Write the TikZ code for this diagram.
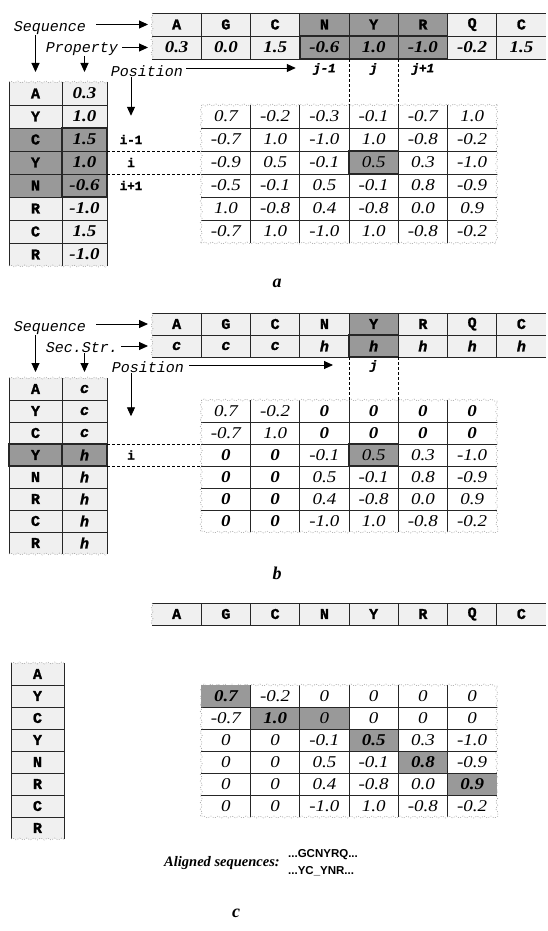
\documentclass[tikz,border=0pt]{standalone}
\usepackage{fontspec}
\setmainfont{Liberation Serif}
\setmonofont[BoldFeatures={FakeBold=1.5},BoldItalicFeatures={FakeBold=1.5}]{Liberation Mono}
\newfontfamily\arialfont{Liberation Sans}
\newfontfamily\numfam[FakeStretch=1.15]{Liberation Serif}
\usetikzlibrary{arrows.meta,calc,backgrounds,decorations.pathmorphing}
\colorlet{lightcell}{black!6}
\colorlet{darkcell}{black!40}
\newcommand\mfnt{\numfam\itshape\fontsize{16.5}{18}\selectfont}
\newcommand\bz{\textbf{0}}
\tikzset{
  lbl/.style={font=\ttfamily\itshape\fontsize{15}{16}\selectfont, inner sep=0pt},
  ilbl/.style={font=\ttfamily\bfseries\fontsize{12.5}{13}\selectfont, inner sep=0pt},
  jlbl/.style={font=\ttfamily\bfseries\itshape\fontsize{12.5}{13}\selectfont, inner sep=0pt},
  letc/.style={font=\ttfamily\bfseries\fontsize{15}{16}\selectfont},
  ssc/.style={font=\ttfamily\bfseries\itshape\fontsize{15}{16}\selectfont},
  bnum/.style={font=\numfam\bfseries\itshape\fontsize{16.5}{18}\selectfont},
  cellbase/.style={inner sep=0pt, outer sep=0pt},
  gridln/.style={line width=0.8pt, draw=black!85},
  boxln/.style={line width=1.5pt, draw=black!85},
  torn/.style={draw=black!40, line width=0.5pt, dash pattern=on 1pt off 1.5pt, decorate, decoration={zigzag, segment length=7pt, amplitude=1pt}},
  arr/.style={-{Triangle[length=9pt,width=8pt]}, line width=0.9pt},
  dsh/.style={line width=0.8pt, dash pattern=on 3pt off 2pt},
  plbl/.style={font=\bfseries\itshape\fontsize{18}{20}\selectfont, inner sep=0pt},
}
\begin{document}
\begin{tikzpicture}[x=1pt,y=-1pt]
\begin{scope}[on background layer]
  \fill[white] (0,0) rectangle (547,931);
\end{scope}
\useasboundingbox (0,0) rectangle (547,931);

% ================= PANEL A =================
% top table
\foreach \tx/\f [count=\k] in {A/lightcell,G/lightcell,C/lightcell,N/darkcell,Y/darkcell,R/darkcell,Q/lightcell,C/lightcell}
  \node[cellbase, letc, fill=\f, minimum width=49.25pt, minimum height=23pt] (aS\k) at ({152+49.25*(\k-0.5)},24.5) {\tx};
\foreach \tx/\f [count=\k] in {0.3/lightcell,0.0/lightcell,1.5/lightcell,-0.6/darkcell,1.0/darkcell,-1.0/darkcell,-0.2/lightcell,1.5/lightcell}
  \node[cellbase, bnum, fill=\f, minimum width=49.25pt, minimum height=23pt] (aP\k) at ({152+49.25*(\k-0.5)},47.5) {\tx};
\draw[gridln] (aS1.north west) -- (aS8.north east);
\draw[gridln] (aS1.south west) -- (aS8.south east);
\draw[gridln] (aP1.south west) -- (aP8.south east);
\foreach \k in {1,...,7} \draw[gridln] (aS\k.north east) -- (aP\k.south east);
\draw[torn] (aS1.north west) -- (aP1.south west);
\draw[boxln] (aP4.north west) rectangle (aP6.south east);

% left table
\foreach \la/\va/\f [count=\k] in {A/0.3/lightcell,Y/1.0/lightcell,C/1.5/darkcell,Y/1.0/darkcell,N/-0.6/darkcell,R/-1.0/lightcell,C/1.5/lightcell,R/-1.0/lightcell}{
  \node[cellbase, letc, fill=\f, minimum width=53pt, minimum height=23pt] (aL\k) at (35.5,{82+23*(\k-0.5)}) {\la};
  \node[cellbase, bnum, fill=\f, minimum width=45pt, minimum height=23pt] (aV\k) at (84.5,{82+23*(\k-0.5)}) {\va};
}
\draw[gridln] (aL1.north west) -- (aL8.south west);
\draw[gridln] (aV1.north west) -- (aV8.south west);
\draw[gridln] (aV1.north east) -- (aV8.south east);
\foreach \k in {1,...,7} \draw[gridln] (aL\k.south west) -- (aV\k.south east);
\draw[torn] (aL1.north west) -- (aV1.north east);
\draw[torn] (aL8.south west) -- (aV8.south east);
\draw[boxln] (aV3.north west) rectangle (aV5.south east);

% matrix
\foreach \row [count=\r] in {{0.7,-0.2,-0.3,-0.1,-0.7,1.0},{-0.7,1.0,-1.0,1.0,-0.8,-0.2},{-0.9,0.5,-0.1,0.5,0.3,-1.0},{-0.5,-0.1,0.5,-0.1,0.8,-0.9},{1.0,-0.8,0.4,-0.8,0.0,0.9},{-0.7,1.0,-1.0,1.0,-0.8,-0.2}}
  \foreach \mv [count=\c] in \row
    \node[cellbase, font=\mfnt, minimum width=49.25pt, minimum height=23pt] (aM\r-\c) at ({201.25+49.25*(\c-0.5)},{105+23*(\r-0.5)}) {\mv};
\begin{scope}[on background layer]
  \fill[darkcell] (aM3-4.north west) rectangle (aM3-4.south east);
\end{scope}
\foreach \c in {1,...,5} \draw[gridln] (aM1-\c.north east) -- (aM6-\c.south east);
\foreach \r in {1,...,5} \draw[gridln] (aM\r-1.south west) -- (aM\r-6.south east);
\draw[torn] (aM1-1.north west) rectangle (aM6-6.south east);
\draw[boxln] (aM3-4.north west) rectangle (aM3-4.south east);

% labels and arrows
\node[lbl] (seqA) at (50,28) {Sequence};
\node[lbl] (propA) at (82,49) {Property};
\node[lbl] (posA) at (147,71) {Position};
\node[ilbl] (im1A) at (131,139.5) {i-1};
\node[ilbl] (iA) at (131,162.5) {i};
\node[ilbl] (ip1A) at (131,185.5) {i+1};
\node[jlbl] (jm1A) at (324.4,69) {j-1};
\node[jlbl] (jA) at (373.6,69) {j};
\node[jlbl] (jp1A) at (422.9,69) {j+1};
\draw[arr] ($(seqA.east |- aS1.west)+(10,0)$) -- ($(aS1.west)+(-4,0)$);
\draw[arr] ($(propA.east |- aP1.west)+(4,0)$) -- ($(aP1.west)+(-4,0)$);
\draw[arr] (aL1.north |- seqA.south) -- ($(aL1.north)+(0,-10)$);
\draw[arr] (aV1.north |- propA.south) -- ($(aV1.north)+(0,-10)$);
\draw[arr] ($(posA.east)+(3,-3)$) -- ($(posA.east -| aP4.west)+(-4,-3)$);
\draw[arr] (im1A.north |- posA.south) -- ($(im1A.north)+(0,-19)$);
\draw[dsh] (aV4.north east) -- (aM3-1.north west);
\draw[dsh] (aV4.south east) -- (aM3-1.south west);
\draw[dsh] (aP5.south west) -- (aM1-4.north west);
\draw[dsh] (aP5.south east) -- (aM1-4.north east);
\node[plbl] (labA) at (277,283) {a};

% ================= PANEL B =================
\foreach \tx/\f [count=\k] in {A/lightcell,G/lightcell,C/lightcell,N/lightcell,Y/darkcell,R/lightcell,Q/lightcell,C/lightcell}
  \node[cellbase, letc, fill=\f, minimum width=49.25pt, minimum height=22pt] (bS\k) at ({152+49.25*(\k-0.5)},324) {\tx};
\foreach \tx/\f [count=\k] in {c/lightcell,c/lightcell,c/lightcell,h/lightcell,h/darkcell,h/lightcell,h/lightcell,h/lightcell}
  \node[cellbase, ssc, fill=\f, minimum width=49.25pt, minimum height=22pt] (bP\k) at ({152+49.25*(\k-0.5)},346) {\tx};
\draw[gridln] (bS1.north west) -- (bS8.north east);
\draw[gridln] (bS1.south west) -- (bS8.south east);
\draw[gridln] (bP1.south west) -- (bP8.south east);
\foreach \k in {1,...,7} \draw[gridln] (bS\k.north east) -- (bP\k.south east);
\draw[torn] (bS1.north west) -- (bP1.south west);
\draw[boxln] (bP5.north west) rectangle (bP5.south east);

\foreach \la/\va/\f [count=\k] in {A/c/lightcell,Y/c/lightcell,C/c/lightcell,Y/h/darkcell,N/h/lightcell,R/h/lightcell,C/h/lightcell,R/h/lightcell}{
  \node[cellbase, letc, fill=\f, minimum width=53pt, minimum height=22pt] (bL\k) at (35.5,{378+22*(\k-0.5)}) {\la};
  \node[cellbase, ssc, fill=\f, minimum width=45pt, minimum height=22pt] (bV\k) at (84.5,{378+22*(\k-0.5)}) {\va};
}
\draw[gridln] (bL1.north west) -- (bL8.south west);
\draw[gridln] (bV1.north west) -- (bV8.south west);
\draw[gridln] (bV1.north east) -- (bV8.south east);
\foreach \k in {1,...,7} \draw[gridln] (bL\k.south west) -- (bV\k.south east);
\draw[torn] (bL1.north west) -- (bV1.north east);
\draw[torn] (bL8.south west) -- (bV8.south east);
\draw[boxln] (bL4.north west) rectangle (bL4.south east);
\draw[boxln] (bV4.north west) rectangle (bV4.south east);

\foreach \row [count=\r] in {{0.7,-0.2,\bz,\bz,\bz,\bz},{-0.7,1.0,\bz,\bz,\bz,\bz},{\bz,\bz,-0.1,0.5,0.3,-1.0},{\bz,\bz,0.5,-0.1,0.8,-0.9},{\bz,\bz,0.4,-0.8,0.0,0.9},{\bz,\bz,-1.0,1.0,-0.8,-0.2}}
  \foreach \mv [count=\c] in \row
    \node[cellbase, font=\mfnt, minimum width=49.25pt, minimum height=22pt] (bM\r-\c) at ({201.25+49.25*(\c-0.5)},{400+22*(\r-0.5)}) {\mv};
\begin{scope}[on background layer]
  \fill[darkcell] (bM3-4.north west) rectangle (bM3-4.south east);
\end{scope}
\foreach \c in {1,...,5} \draw[gridln] (bM1-\c.north east) -- (bM6-\c.south east);
\foreach \r in {1,...,5} \draw[gridln] (bM\r-1.south west) -- (bM\r-6.south east);
\draw[torn] (bM1-1.north west) rectangle (bM6-6.south east);
\draw[boxln] (bM3-4.north west) rectangle (bM3-4.south east);

\node[lbl] (seqB) at (50,328) {Sequence};
\node[lbl] (secB) at (82,348) {Sec.Str.};
\node[lbl] (posB) at (148,367) {Position};
\node[ilbl] (iB) at (131,455) {i};
\node[jlbl] (jB) at (373.6,366) {j};
\draw[arr] ($(seqB.east |- bS1.west)+(10,0)$) -- ($(bS1.west)+(-4,0)$);
\draw[arr] ($(secB.east |- bP1.west)+(3,0)$) -- ($(bP1.west)+(-4,0)$);
\draw[arr] (bL1.north |- seqB.south) -- ($(bL1.north)+(0,-6)$);
\draw[arr] (bV1.north |- secB.south) -- ($(bV1.north)+(0,-6)$);
\draw[arr] ($(posB.east)+(5,-2)$) -- ($(posB.east -| bP5.west)+(-16,-2)$);
\draw[arr] (iB.north |- posB.south) -- ($(iB.north)+(0,-34)$);
\draw[dsh] (bV4.north east) -- (bM3-1.north west);
\draw[dsh] (bV4.south east) -- (bM3-1.south west);
\draw[dsh] (bP5.south west) -- (bM1-4.north west);
\draw[dsh] (bP5.south east) -- (bM1-4.north east);
\node[plbl] (labB) at (277,573) {b};

% ================= PANEL C =================
\foreach \tx [count=\k] in {A,G,C,N,Y,R,Q,C}
  \node[cellbase, letc, fill=lightcell, minimum width=49.25pt, minimum height=22pt] (cS\k) at ({152+49.25*(\k-0.5)},614) {\tx};
\draw[gridln] (cS1.north west) -- (cS8.north east);
\draw[gridln] (cS1.south west) -- (cS8.south east);
\foreach \k in {1,...,7} \draw[gridln] (cS\k.north east) -- (cS\k.south east);
\draw[torn] (cS1.north west) -- (cS1.south west);

\foreach \la [count=\k] in {A,Y,C,Y,N,R,C,R}
  \node[cellbase, letc, fill=lightcell, minimum width=53pt, minimum height=22pt] (cL\k) at (37.5,{663+22*(\k-0.5)}) {\la};
\draw[gridln] (cL1.north west) -- (cL8.south west);
\draw[gridln] (cL1.north east) -- (cL8.south east);
\foreach \k in {1,...,7} \draw[gridln] (cL\k.south west) -- (cL\k.south east);
\draw[torn] (cL1.north west) -- (cL1.north east);
\draw[torn] (cL8.south west) -- (cL8.south east);

\foreach \row [count=\r] in {{\textbf{0.7},-0.2,0,0,0,0},{-0.7,\textbf{1.0},0,0,0,0},{0,0,-0.1,\textbf{0.5},0.3,-1.0},{0,0,0.5,-0.1,\textbf{0.8},-0.9},{0,0,0.4,-0.8,0.0,\textbf{0.9}},{0,0,-1.0,1.0,-0.8,-0.2}}
  \foreach \mv [count=\c] in \row
    \node[cellbase, font=\mfnt, minimum width=49.25pt, minimum height=22pt] (cM\r-\c) at ({201.25+49.25*(\c-0.5)},{685+22*(\r-0.5)}) {\mv};
\begin{scope}[on background layer]
  \foreach \r/\c in {1/1,2/2,2/3,3/4,4/5,5/6}
    \fill[darkcell] (cM\r-\c.north west) rectangle (cM\r-\c.south east);
\end{scope}
\foreach \c in {1,...,5} \draw[gridln] (cM1-\c.north east) -- (cM6-\c.south east);
\foreach \r in {1,...,5} \draw[gridln] (cM\r-1.south west) -- (cM\r-6.south east);
\draw[torn] (cM1-1.north west) rectangle (cM6-6.south east);

\node[font=\bfseries\itshape\fontsize{14.5}{16}\selectfont, inner sep=0pt] (alig) at (222,863) {Aligned sequences:};
\node[font=\arialfont\bfseries\fontsize{11.5}{13}\selectfont, inner sep=0pt, anchor=west] (seq1) at (288,855) {...GCNYRQ...};
\node[font=\arialfont\bfseries\fontsize{11.5}{13}\selectfont, inner sep=0pt, anchor=west] (seq2) at (288,871) {...YC\_YNR...};
\node[plbl] (labC) at (236,913) {c};
\end{tikzpicture}
\end{document}
